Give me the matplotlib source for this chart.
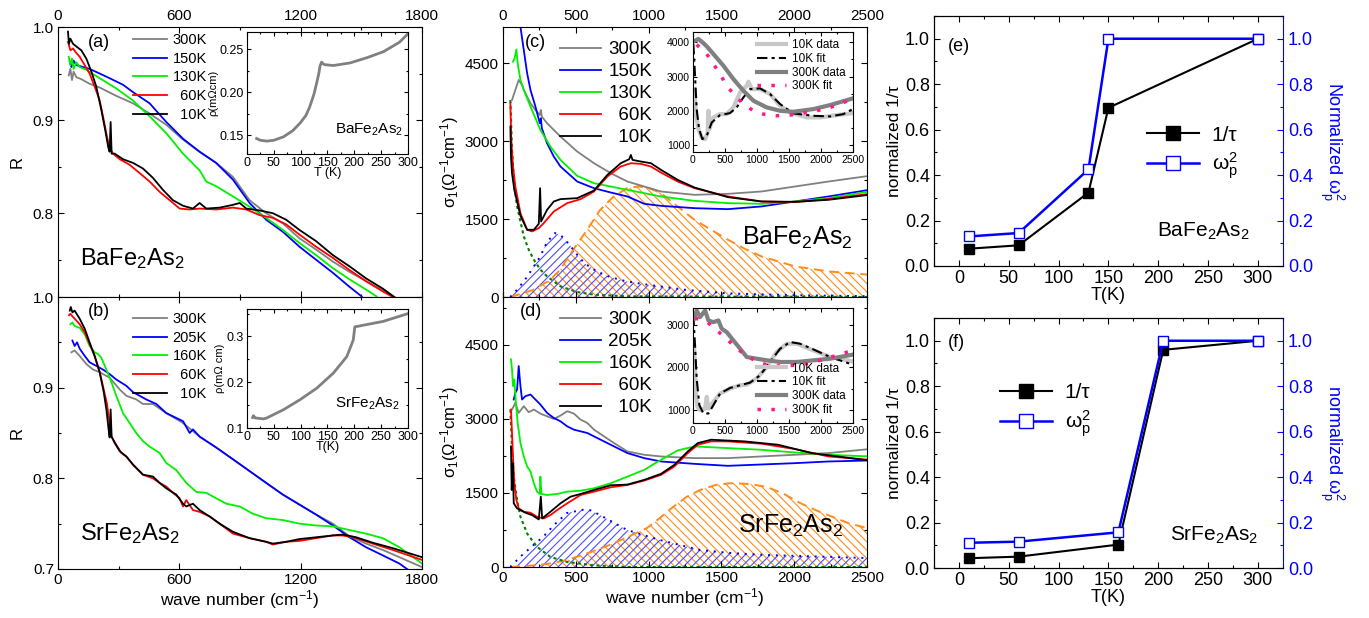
import matplotlib
matplotlib.use('Agg')
import matplotlib.pyplot as plt
from matplotlib.ticker import MultipleLocator, AutoMinorLocator, FormatStrFormatter

plt.rcParams['font.family'] = ['Liberation Sans', 'DejaVu Sans']
plt.rcParams['mathtext.default'] = 'regular'
plt.rcParams['hatch.linewidth'] = 0.8

GRAY = '#808080'
BLUE = '#0000ff'
GREEN = '#00f000'
RED = '#ff0000'
BLACK = '#000000'
ORANGE = '#ff8c1a'
HBLUE = '#4d4dff'
DGREEN = '#008000'
PINK = '#ff1a8c'
LGRAY = '#c8c8c8'

# ---------------- panel (a): BaFe2As2 reflectance ----------------
a300_x = [53, 61, 69, 77, 91, 115, 156, 206, 288, 371, 453, 535, 618, 700, 782, 865, 947, 1029, 1112, 1194, 1276, 1359, 1441, 1523, 1606, 1655, 1720]
a300_y = [0.948, 0.955, 0.943, 0.952, 0.946, 0.944, 0.939, 0.935, 0.926, 0.918, 0.907, 0.895, 0.879, 0.866, 0.854, 0.839, 0.814, 0.800, 0.789, 0.773, 0.761, 0.748, 0.737, 0.727, 0.717, 0.711, 0.700]
a150_x = [58, 66, 77, 91, 124, 156, 206, 255, 321, 371, 453, 535, 618, 700, 782, 865, 947, 1029, 1112, 1194, 1276, 1359, 1441, 1499, 1540]
a150_y = [0.9625, 0.957, 0.964, 0.959, 0.957, 0.955, 0.950, 0.945, 0.938, 0.930, 0.918, 0.898, 0.880, 0.866, 0.854, 0.836, 0.811, 0.793, 0.780, 0.764, 0.750, 0.736, 0.721, 0.711, 0.700]
a130_x = [53, 61, 69, 77, 91, 107, 140, 206, 288, 371, 453, 535, 618, 700, 733, 782, 865, 947, 1029, 1112, 1194, 1276, 1359, 1441, 1523, 1573, 1610]
a130_y = [0.968, 0.959, 0.966, 0.955, 0.962, 0.957, 0.954, 0.945, 0.934, 0.921, 0.904, 0.886, 0.864, 0.846, 0.834, 0.829, 0.818, 0.807, 0.795, 0.782, 0.768, 0.755, 0.741, 0.729, 0.718, 0.711, 0.700]
a60_x = [49, 61, 74, 87, 107, 132, 156, 181, 206, 226, 242, 255, 272, 305, 354, 404, 453, 502, 552, 601, 651, 700, 782, 865, 931, 996, 1062, 1128, 1194, 1276, 1359, 1441, 1523, 1606, 1655, 1700]
a60_y = [0.984, 0.975, 0.977, 0.973, 0.968, 0.959, 0.950, 0.936, 0.921, 0.900, 0.882, 0.870, 0.864, 0.858, 0.852, 0.843, 0.834, 0.823, 0.814, 0.805, 0.804, 0.805, 0.804, 0.806, 0.804, 0.798, 0.795, 0.788, 0.777, 0.764, 0.752, 0.739, 0.727, 0.716, 0.710, 0.702]
a10_x = [49, 54, 61, 74, 91, 115, 140, 165, 189, 214, 236, 249, 255, 260, 265, 280, 321, 371, 420, 469, 519, 568, 618, 667, 700, 733, 799, 865, 898, 931, 996, 1062, 1128, 1194, 1276, 1359, 1441, 1523, 1606, 1663, 1700]
a10_y = [0.995, 0.982, 0.9875, 0.982, 0.979, 0.975, 0.966, 0.952, 0.936, 0.911, 0.886, 0.870, 0.866, 0.898, 0.864, 0.864, 0.858, 0.854, 0.848, 0.838, 0.825, 0.814, 0.808, 0.805, 0.811, 0.805, 0.806, 0.809, 0.811, 0.805, 0.803, 0.800, 0.793, 0.782, 0.770, 0.755, 0.743, 0.730, 0.719, 0.710, 0.704]
a_labels = ['300K', '150K', '130K', '\u200760K', '\u200710K']

rho_ba_T = [18, 25, 37, 50, 68, 85, 99, 110, 117, 125, 130, 134, 136, 139, 142, 145, 161, 192, 223, 254, 284, 300]
rho_ba = [0.146, 0.144, 0.143, 0.144, 0.148, 0.155, 0.164, 0.173, 0.183, 0.198, 0.211, 0.222, 0.230, 0.235, 0.233, 0.232, 0.231, 0.234, 0.240, 0.247, 0.258, 0.268]

# ---------------- panel (b): SrFe2As2 reflectance ----------------
b300_x = [66, 82, 107, 140, 173, 206, 255, 305, 338, 387, 420, 469, 535, 618, 700, 782, 865, 947, 1029, 1112, 1194, 1276, 1359, 1441, 1523, 1606, 1688, 1800]
b300_y = [0.939, 0.941, 0.935, 0.926, 0.920, 0.917, 0.911, 0.898, 0.891, 0.887, 0.882, 0.882, 0.872, 0.861, 0.846, 0.834, 0.821, 0.808, 0.795, 0.782, 0.771, 0.760, 0.750, 0.736, 0.728, 0.721, 0.713, 0.702]
b205_x = [71, 82, 94, 107, 132, 156, 189, 222, 255, 288, 338, 371, 404, 436, 486, 535, 618, 651, 667, 700, 782, 865, 947, 1029, 1112, 1194, 1276, 1359, 1441, 1523, 1606, 1688, 1738]
b205_y = [0.952, 0.946, 0.950, 0.943, 0.935, 0.928, 0.924, 0.920, 0.915, 0.909, 0.902, 0.895, 0.891, 0.887, 0.882, 0.872, 0.863, 0.850, 0.854, 0.846, 0.834, 0.821, 0.808, 0.795, 0.782, 0.771, 0.760, 0.748, 0.735, 0.724, 0.715, 0.706, 0.698]
b160_x = [61, 71, 82, 107, 132, 156, 181, 198, 214, 239, 264, 288, 321, 354, 387, 420, 453, 502, 535, 585, 634, 684, 733, 782, 832, 898, 963, 1029, 1112, 1194, 1276, 1359, 1441, 1523, 1606, 1688, 1800]
b160_y = [0.970, 0.972, 0.968, 0.966, 0.959, 0.946, 0.939, 0.937, 0.933, 0.920, 0.906, 0.891, 0.872, 0.861, 0.850, 0.841, 0.835, 0.828, 0.817, 0.809, 0.795, 0.785, 0.784, 0.778, 0.772, 0.769, 0.761, 0.756, 0.754, 0.750, 0.748, 0.747, 0.743, 0.739, 0.734, 0.724, 0.706]
b60_x = [54, 61, 74, 107, 132, 156, 181, 206, 226, 242, 255, 264, 272, 288, 313, 338, 371, 420, 469, 502, 535, 568, 601, 618, 634, 667, 700, 749, 799, 865, 947, 1029, 1062, 1128, 1194, 1276, 1359, 1408, 1474, 1556, 1655, 1800]
b60_y = [0.980, 0.9815, 0.978, 0.970, 0.961, 0.948, 0.935, 0.917, 0.898, 0.882, 0.861, 0.846, 0.843, 0.837, 0.828, 0.824, 0.815, 0.804, 0.800, 0.795, 0.791, 0.784, 0.778, 0.769, 0.776, 0.765, 0.763, 0.758, 0.750, 0.739, 0.734, 0.730, 0.727, 0.730, 0.731, 0.734, 0.737, 0.737, 0.734, 0.728, 0.721, 0.710]
b10_x = [58, 63, 71, 82, 107, 132, 156, 181, 206, 226, 239, 250, 255, 260, 265, 280, 305, 338, 371, 420, 469, 502, 535, 585, 618, 634, 667, 700, 749, 799, 865, 947, 1029, 1062, 1128, 1194, 1276, 1359, 1408, 1474, 1556, 1655, 1800]
b10_y = [0.985, 0.989, 0.983, 0.985, 0.976, 0.965, 0.950, 0.935, 0.917, 0.895, 0.876, 0.854, 0.845, 0.876, 0.846, 0.839, 0.830, 0.824, 0.815, 0.804, 0.802, 0.795, 0.789, 0.782, 0.772, 0.769, 0.772, 0.765, 0.758, 0.750, 0.741, 0.734, 0.730, 0.728, 0.730, 0.733, 0.735, 0.737, 0.738, 0.735, 0.729, 0.723, 0.713]
b_labels = ['300K', '205K', '160K', '\u200760K', '\u200710K']

rho_sr_T = [10.5, 12, 15.5, 31, 37, 68, 99, 130, 161, 186, 198, 201, 210, 254, 300]
rho_sr = [0.123, 0.127, 0.122, 0.120, 0.122, 0.140, 0.162, 0.187, 0.220, 0.256, 0.292, 0.321, 0.323, 0.333, 0.350]

# ---------------- panel (c): BaFe2As2 conductivity ----------------
c300_x = [62, 85, 108, 131, 143, 166, 189, 223, 253, 260, 267, 303, 395, 510, 625, 740, 855, 970, 1085, 1315, 1545, 1775, 2005, 2235, 2515]
c300_y = [3795, 3987, 4180, 4083, 3987, 3859, 3731, 3602, 3506, 3602, 3474, 3346, 3090, 2801, 2577, 2385, 2224, 2128, 2032, 1968, 1987, 2032, 2128, 2224, 2333]
c150_x = [97, 120, 143, 166, 189, 223, 253, 260, 267, 303, 349, 395, 510, 625, 740, 855, 970, 1085, 1315, 1545, 1775, 2005, 2235, 2515]
c150_y = [5950, 5205, 4756, 4308, 3987, 3667, 3346, 3442, 3250, 2961, 2705, 2513, 2224, 2096, 2013, 1936, 1795, 1756, 1711, 1692, 1744, 1840, 1936, 2064]
c130_x = [69, 80, 92, 101, 120, 143, 189, 257, 326, 395, 510, 625, 740, 855, 970, 1085, 1315, 1545, 1775, 2005, 2235, 2515]
c130_y = [4532, 4596, 4769, 4500, 4179, 3987, 3667, 3218, 2897, 2641, 2333, 2192, 2128, 2064, 2000, 1936, 1852, 1808, 1795, 1840, 1904, 2032]
c60_x = [51, 57, 69, 85, 120, 166, 200, 246, 280, 349, 441, 533, 625, 717, 809, 878, 947, 1016, 1085, 1200, 1315, 1545, 1775, 2005, 2235, 2515]
c60_y = [3731, 3026, 2513, 2128, 1615, 1295, 1263, 1327, 1423, 1647, 1808, 1885, 2032, 2320, 2513, 2577, 2564, 2513, 2397, 2224, 2096, 1936, 1840, 1827, 1885, 1987]
c10_x = [51, 55, 62, 78, 120, 166, 212, 246, 255, 262, 303, 349, 395, 510, 625, 717, 809, 867, 878, 890, 947, 1016, 1085, 1200, 1315, 1545, 1775, 2005, 2235, 2515]
c10_y = [3282, 2705, 2385, 2064, 1564, 1295, 1295, 1410, 2096, 1455, 1679, 1840, 1885, 1904, 2051, 2352, 2577, 2654, 2737, 2641, 2609, 2577, 2449, 2256, 2109, 1923, 1840, 1833, 1872, 1968]
c_drude_x = [51, 62, 78, 97, 120, 143, 177, 212, 257, 303, 395, 510, 625, 855, 2515]
c_drude_y = [3795, 2833, 2128, 1743, 1455, 1167, 910, 718, 526, 397, 205, 96, 45, 13, 0]
c_blue_x = [50, 100, 165, 210, 254, 302, 357, 400, 460, 494, 560, 640, 735, 850, 1010, 1264, 1545, 2005, 2515]
c_blue_y = [0, 150, 385, 580, 770, 1058, 1231, 1180, 1000, 865, 650, 500, 385, 300, 230, 135, 70, 35, 15]
c_orange_x = [50, 96, 206, 323, 391, 481, 577, 666, 755, 852, 930, 1010, 1085, 1200, 1315, 1430, 1545, 1660, 1775, 2005, 2235, 2515]
c_orange_y = [0, 38, 135, 327, 520, 904, 1290, 1673, 1923, 2096, 2130, 2090, 2000, 1743, 1487, 1295, 1103, 930, 782, 590, 493, 430]

ci10d_x = [21, 52, 89, 141, 193, 234, 245, 260, 323, 427, 531, 635, 740, 844, 870, 922, 1052, 1208, 1365, 1521, 1781, 1989, 2250, 2500]
ci10d_y = [2636, 1857, 1468, 1224, 1175, 1370, 2003, 1468, 1809, 1906, 1906, 2101, 2539, 2734, 2851, 2636, 2636, 2490, 2149, 1955, 1809, 1809, 1877, 1935]
ci10f_x = [10, 36, 62, 99, 151, 219, 297, 427, 583, 687, 792, 896, 1052, 1208, 1365, 1573, 1885, 2146, 2354, 2500]
ci10f_y = [3951, 3026, 2052, 1468, 1175, 1273, 1662, 1877, 1935, 2101, 2393, 2636, 2656, 2490, 2198, 1925, 1857, 1838, 1906, 2052]
ci300d_x = [36, 89, 141, 219, 323, 479, 635, 792, 948, 1156, 1365, 1573, 1885, 2146, 2500]
ci300d_y = [4049, 4097, 4019, 3883, 3659, 3318, 2929, 2588, 2296, 2101, 2003, 1974, 2052, 2169, 2364]
ci300f_x = [62, 219, 323, 427, 531, 661, 792, 948, 1104, 1312, 1521, 1729, 1937, 2146, 2302, 2500]
ci300f_y = [3932, 3659, 3367, 3075, 2734, 2442, 2198, 2003, 1906, 1857, 1877, 1935, 2003, 2101, 2198, 2364]

# ---------------- panel (d): SrFe2As2 conductivity ----------------
d300_x = [62, 85, 108, 143, 177, 212, 257, 303, 349, 395, 441, 487, 533, 579, 625, 694, 763, 855, 970, 1085, 1315, 1545, 1775, 2005, 2235, 2515]
d300_y = [3190, 3326, 3122, 3258, 3136, 3190, 3108, 3054, 3000, 3068, 3156, 3108, 2986, 2918, 2783, 2647, 2511, 2341, 2274, 2240, 2206, 2206, 2240, 2274, 2308, 2389]
d205_x = [74, 85, 97, 108, 120, 131, 154, 189, 223, 257, 303, 349, 395, 441, 487, 533, 579, 625, 671, 717, 786, 855, 970, 1085, 1315, 1545, 1775, 2005, 2235, 2515]
d205_y = [3393, 3529, 3597, 4072, 3665, 3393, 3461, 3495, 3393, 3292, 3122, 3020, 2952, 2850, 2783, 2749, 2715, 2647, 2579, 2511, 2409, 2308, 2206, 2138, 2090, 2050, 2077, 2104, 2138, 2158]
d160_x = [55, 62, 69, 78, 87, 101, 120, 143, 166, 189, 212, 234, 253, 257, 264, 303, 372, 441, 533, 625, 740, 855, 970, 1085, 1200, 1315, 1545, 1775, 2005, 2235, 2515]
d160_y = [4208, 4004, 3665, 3800, 3393, 2918, 2511, 2240, 2036, 1934, 1697, 1527, 1480, 1832, 1480, 1459, 1480, 1527, 1547, 1595, 1697, 1832, 1968, 2172, 2362, 2443, 2409, 2375, 2321, 2274, 2240]
d60_x = [55, 62, 69, 78, 92, 108, 143, 189, 234, 280, 326, 372, 441, 533, 625, 740, 855, 970, 1085, 1177, 1269, 1338, 1430, 1545, 1775, 2005, 2235, 2515]
d60_y = [3190, 2715, 2240, 1697, 1357, 1188, 1120, 1100, 1018, 984, 1052, 1154, 1290, 1459, 1527, 1615, 1663, 1751, 1866, 2036, 2308, 2477, 2545, 2545, 2498, 2389, 2240, 2172]
d10_x = [55, 60, 67, 74, 97, 120, 154, 200, 246, 260, 269, 326, 395, 464, 533, 625, 740, 855, 970, 1085, 1177, 1269, 1338, 1430, 1660, 1890, 2120, 2515]
d10_y = [2443, 1561, 2104, 1290, 1188, 1154, 1100, 1052, 964, 1425, 984, 1120, 1290, 1425, 1480, 1561, 1656, 1670, 1765, 1887, 2070, 2341, 2511, 2579, 2545, 2477, 2308, 2158]
d_drude_x = [51, 62, 74, 97, 120, 166, 234, 326, 441, 625, 855, 2515]
d_drude_y = [3190, 2375, 1832, 1357, 1018, 679, 407, 204, 102, 34, 0, 0]
d_blue_x = [50, 117, 200, 275, 350, 440, 550, 600, 666, 760, 852, 1078, 1353, 1580, 1813, 2266, 2515]
d_blue_y = [0, 203, 420, 608, 850, 1095, 1160, 1150, 1054, 900, 750, 547, 345, 280, 243, 203, 180]
d_orange_x = [50, 200, 300, 440, 600, 735, 850, 989, 1080, 1168, 1260, 1353, 1470, 1580, 1700, 1813, 1930, 2040, 2150, 2266, 2380, 2515]
d_orange_y = [0, 30, 60, 140, 300, 450, 600, 790, 1000, 1216, 1420, 1560, 1670, 1700, 1680, 1620, 1480, 1297, 1150, 1013, 880, 780]

di10d_x = [21, 52, 73, 115, 193, 219, 245, 323, 427, 583, 740, 844, 1000, 1156, 1312, 1469, 1625, 1885, 2146, 2500]
di10d_y = [2518, 1351, 1078, 1001, 1039, 1312, 1039, 1195, 1390, 1506, 1584, 1600, 1740, 2012, 2362, 2557, 2557, 2401, 2245, 2144]
di10f_x = [10, 36, 62, 104, 167, 245, 323, 427, 583, 740, 896, 1052, 1208, 1365, 1521, 1677, 1885, 2146, 2500]
di10f_y = [3218, 2518, 1740, 1117, 923, 923, 1117, 1390, 1522, 1584, 1646, 1817, 2129, 2440, 2596, 2557, 2424, 2245, 2066]
di300d_x = [21, 62, 115, 193, 245, 323, 401, 453, 531, 635, 740, 844, 1000, 1156, 1365, 1625, 1885, 2146, 2500]
di300d_y = [3140, 3335, 3179, 3335, 3101, 3062, 3101, 2907, 2829, 2634, 2440, 2245, 2206, 2168, 2129, 2129, 2168, 2206, 2300]
di300f_x = [36, 219, 375, 531, 687, 844, 1000, 1156, 1365, 1573, 1781, 1989, 2198, 2500]
di300f_y = [3156, 3078, 2868, 2673, 2440, 2284, 2129, 2066, 2035, 2051, 2090, 2168, 2261, 2401]

# ---------------- panels (e), (f): normalized 1/tau and wp^2 ----------------
T_ba = [10, 60, 130, 150, 300]
tau_ba = [0.076, 0.091, 0.323, 0.696, 1.0]
wp_ba = [0.13, 0.145, 0.425, 1.0, 1.0]
T_sr = [10, 60, 160, 205, 300]
tau_sr = [0.043, 0.05, 0.103, 0.96, 1.0]
wp_sr = [0.111, 0.116, 0.157, 1.0, 1.0]

colors5 = [GRAY, BLUE, GREEN, RED, BLACK]


def set_ticks(ax, xmaj, ymaj, size, maj_len=4.5, min_len=2.5):
    ax.xaxis.set_major_locator(MultipleLocator(xmaj))
    ax.yaxis.set_major_locator(MultipleLocator(ymaj))
    ax.xaxis.set_minor_locator(AutoMinorLocator(2))
    ax.yaxis.set_minor_locator(AutoMinorLocator(2))
    ax.tick_params(which='both', direction='in', top=True, right=True,
                   labelsize=size, width=0.8, pad=3)
    ax.tick_params(which='major', length=maj_len)
    ax.tick_params(which='minor', length=min_len)


fig = plt.figure(figsize=(13.69, 6.18), dpi=100)

# ---------- (a) ----------
ax_a = fig.add_axes([0.0424, 0.5194, 0.2659, 0.4369])
for x, y, c, l in zip([a300_x, a150_x, a130_x, a60_x, a10_x],
                      [a300_y, a150_y, a130_y, a60_y, a10_y], colors5, a_labels):
    ax_a.plot(x, y, color=c, lw=1.3, label=l)
ax_a.set_xlim(0, 1800)
ax_a.set_ylim(0.71, 1.0)
set_ticks(ax_a, 600, 0.1, 11)
ax_a.yaxis.set_major_formatter(FormatStrFormatter('%.1f'))
ax_a.tick_params(labeltop=True, labelbottom=False)
ax_a.set_ylabel('R', fontsize=12, labelpad=6)
ax_a.legend(loc='upper left', bbox_to_anchor=(0.19, 1.0), frameon=False,
            fontsize=10.5, handlelength=2.3, handletextpad=0.4, labelspacing=0.33,
            borderaxespad=0)
ax_a.text(0.082, 0.944, '(a)', transform=ax_a.transAxes, fontsize=13, va='center')
ax_a.text(0.06, 0.118, 'BaFe$_2$As$_2$', transform=ax_a.transAxes, fontsize=17, va='baseline')

ia = fig.add_axes([0.1804, 0.7508, 0.1176, 0.1974])
ia.plot(rho_ba_T, rho_ba, color=GRAY, lw=2)
ia.set_xlim(0, 300)
ia.set_ylim(0.128, 0.27)
set_ticks(ia, 50, 0.05, 9, 3, 1.5)
ia.yaxis.set_major_formatter(FormatStrFormatter('%.2f'))
ia.tick_params(pad=2)
ia.set_xlabel('T (K)', fontsize=9, labelpad=-1)
ia.set_ylabel('\u03c1(m\u03a9cm)', fontsize=8, labelpad=1)
ia.text(0.97, 0.17, 'BaFe$_2$As$_2$', transform=ia.transAxes, fontsize=11,
        ha='right', va='baseline')

# ---------- (b) ----------
ax_b = fig.add_axes([0.0424, 0.0793, 0.2659, 0.4401])
for x, y, c, l in zip([b300_x, b205_x, b160_x, b60_x, b10_x],
                      [b300_y, b205_y, b160_y, b60_y, b10_y], colors5, b_labels):
    ax_b.plot(x, y, color=c, lw=1.3, label=l)
ax_b.set_xlim(0, 1800)
ax_b.set_ylim(0.7, 1.0)
set_ticks(ax_b, 600, 0.1, 11)
ax_b.yaxis.set_major_formatter(FormatStrFormatter('%.1f'))
ax_b.set_ylabel('R', fontsize=12, labelpad=6)
ax_b.set_xlabel('wave number (cm$^{-1}$)', fontsize=12.5, labelpad=1)
ax_b.legend(loc='upper left', bbox_to_anchor=(0.19, 0.967), frameon=False,
            fontsize=10.5, handlelength=2.3, handletextpad=0.4, labelspacing=0.33,
            borderaxespad=0)
ax_b.text(0.082, 0.945, '(b)', transform=ax_b.transAxes, fontsize=13, va='center')
ax_b.text(0.06, 0.107, 'SrFe$_2$As$_2$', transform=ax_b.transAxes, fontsize=17, va='baseline')

ib = fig.add_axes([0.1804, 0.3074, 0.1176, 0.1926])
ib.plot(rho_sr_T, rho_sr, color=GRAY, lw=2)
ib.set_xlim(0, 300)
ib.set_ylim(0.1, 0.36)
set_ticks(ib, 50, 0.1, 9, 3, 1.5)
ib.yaxis.set_major_formatter(FormatStrFormatter('%.1f'))
ib.tick_params(pad=2)
ib.set_xlabel('T(K)', fontsize=9, labelpad=-1)
ib.set_ylabel('\u03c1(m\u03a9 cm)', fontsize=8, labelpad=1)
ib.text(0.95, 0.17, 'SrFe$_2$As$_2$', transform=ib.transAxes, fontsize=11,
        ha='right', va='baseline')


def conductivity_panel(ax, curves, labels, drude, blue, orange):
    ax.fill_between(orange[0], 0, orange[1], facecolor='none', edgecolor=ORANGE,
                    hatch='\\\\\\\\', lw=0)
    ax.fill_between(blue[0], 0, blue[1], facecolor='none', edgecolor=HBLUE,
                    hatch='////', lw=0)
    ax.plot(orange[0], orange[1], color=ORANGE, lw=1.4, ls=(0, (5, 3)))
    ax.plot(blue[0], blue[1], color=BLUE, lw=1.4, ls=(0, (1, 3)))
    ax.plot(drude[0], drude[1], color=DGREEN, lw=1.5, ls=(0, (1.5, 1.5)))
    for (x, y), c, l in zip(curves, colors5, labels):
        ax.plot(x, y, color=c, lw=1.3, label=l)
    ax.set_xlim(0, 2500)
    set_ticks(ax, 500, 1500, 11)
    ax.set_ylabel('$\\sigma_1$($\\Omega^{-1}$cm$^{-1}$)', fontsize=12, labelpad=3)
    ax.legend(loc='upper left', bbox_to_anchor=(0.135, 0.975), frameon=False,
              fontsize=13.5, handlelength=2.2, handletextpad=0.4, labelspacing=0.26,
              borderaxespad=0)


def conductivity_inset(ax, d10, f10, d300, f300, ylim, loc):
    ax.plot(d10[0], d10[1], color=LGRAY, lw=3, label='10K data')
    ax.plot(f10[0], f10[1], color=BLACK, lw=1.5, ls=(0, (5, 2, 1.5, 2)), label='10K fit')
    ax.plot(d300[0], d300[1], color=GRAY, lw=3, label='300K data')
    ax.plot(f300[0], f300[1], color=PINK, lw=2.5, ls=(0, (1, 3)), label='300K fit')
    ax.set_xlim(0, 2500)
    ax.set_ylim(*ylim)
    set_ticks(ax, 500, 1000, 7.5, 3, 1.5)
    ax.tick_params(pad=2)
    ax.legend(loc=loc, frameon=False, fontsize=8.5, handlelength=2.5,
              handletextpad=0.5, labelspacing=0.15, borderaxespad=0.2)


# ---------- (c) ----------
ax_c = fig.add_axes([0.3674, 0.5194, 0.2659, 0.4369])
conductivity_panel(ax_c,
                   [(c300_x, c300_y), (c150_x, c150_y), (c130_x, c130_y),
                    (c60_x, c60_y), (c10_x, c10_y)],
                   a_labels, (c_drude_x, c_drude_y), (c_blue_x, c_blue_y),
                   (c_orange_x, c_orange_y))
ax_c.set_ylim(0, 5200)
ax_c.tick_params(labeltop=True, labelbottom=False)
ax_c.text(0.06, 0.944, '(c)', transform=ax_c.transAxes, fontsize=13, va='center')
ax_c.text(0.962, 0.193, 'BaFe$_2$As$_2$', transform=ax_c.transAxes, fontsize=18,
          ha='right', va='baseline')

ic = fig.add_axes([0.506, 0.754, 0.1169, 0.1942])
conductivity_inset(ic, (ci10d_x, ci10d_y), (ci10f_x, ci10f_y),
                   (ci300d_x, ci300d_y), (ci300f_x, ci300f_y), (800, 4300), 'upper right')

# ---------- (d) ----------
ax_d = fig.add_axes([0.3674, 0.0825, 0.2659, 0.4369])
conductivity_panel(ax_d,
                   [(d300_x, d300_y), (d205_x, d205_y), (d160_x, d160_y),
                    (d60_x, d60_y), (d10_x, d10_y)],
                   b_labels, (d_drude_x, d_drude_y), (d_blue_x, d_blue_y),
                   (d_orange_x, d_orange_y))
ax_d.set_ylim(0, 5470)
ax_d.set_xlabel('wave number (cm$^{-1}$)', fontsize=12.5, labelpad=1)
ax_d.text(0.047, 0.948, '(d)', transform=ax_d.transAxes, fontsize=13, va='center')
ax_d.text(0.934, 0.126, 'SrFe$_2$As$_2$', transform=ax_d.transAxes, fontsize=18,
          ha='right', va='baseline')

idd = fig.add_axes([0.506, 0.3155, 0.1169, 0.1866])
conductivity_inset(idd, (di10d_x, di10d_y), (di10f_x, di10f_y),
                   (di300d_x, di300d_y), (di300f_x, di300f_y), (700, 3400), 'lower right')


def scattering_panel(rect, T, tau, wp, tag, tag_y, name, right_label, leg_anchor, name_xy):
    ax = fig.add_axes(rect)
    ax2 = ax.twinx()
    h1, = ax.plot(T, tau, color=BLACK, lw=1.5, marker='s', ms=7.5,
                  mfc=BLACK, mec=BLACK)
    h2, = ax2.plot(T, wp, color=BLUE, lw=1.8, marker='s', ms=7.5,
                   mfc='white', mec=BLUE)
    for a in (ax, ax2):
        a.set_xlim(-25, 325)
        a.set_ylim(0, 1.1)
    set_ticks(ax, 50, 0.2, 13)
    ax.tick_params(which='both', right=False)
    ax.yaxis.set_major_formatter(FormatStrFormatter('%.1f'))
    ax2.yaxis.set_major_locator(MultipleLocator(0.2))
    ax2.yaxis.set_minor_locator(AutoMinorLocator(2))
    ax2.yaxis.set_major_formatter(FormatStrFormatter('%.1f'))
    ax2.tick_params(axis='y', which='both', direction='in', colors=BLUE,
                    labelsize=13, width=0.8)
    ax2.tick_params(axis='y', which='major', length=4.5)
    ax2.tick_params(axis='y', which='minor', length=2.5)
    ax2.spines['right'].set_color(BLUE)
    ax.spines['right'].set_visible(False)
    ax.set_xlabel('T(K)', fontsize=13, labelpad=0)
    ax.set_ylabel('normalized 1/\u03c4', fontsize=12.5, labelpad=2)
    ax2.set_ylabel(right_label, fontsize=13, color=BLUE, rotation=270,
                   va='bottom', labelpad=4)
    ax2.legend([h1, h2], ['1/\u03c4', '$\\omega_p^2$'], loc='upper left',
               bbox_to_anchor=leg_anchor, frameon=False, fontsize=15,
               handlelength=2.5, handletextpad=0.6, labelspacing=0.3,
               borderaxespad=0, markerscale=1.25)
    ax.text(0.04, tag_y, tag, transform=ax.transAxes, fontsize=13, va='center')
    ax.text(name_xy[0], name_xy[1], name, transform=ax.transAxes, fontsize=15,
            ha='right', va='baseline')
    return ax


scattering_panel([0.6822, 0.5696, 0.2549, 0.4045], T_ba, tau_ba, wp_ba, '(e)', 0.88,
                 'BaFe$_2$As$_2$', 'Normalized $\\omega_p^2$', (0.587, 0.595), (0.905, 0.116))
scattering_panel([0.6822, 0.0809, 0.2549, 0.4045], T_sr, tau_sr, wp_sr, '(f)', 0.904,
                 'SrFe$_2$As$_2$', 'normalized $\\omega_p^2$', (0.166, 0.772), (0.928, 0.108))

fig.savefig('out.png', dpi=100, facecolor='white')
